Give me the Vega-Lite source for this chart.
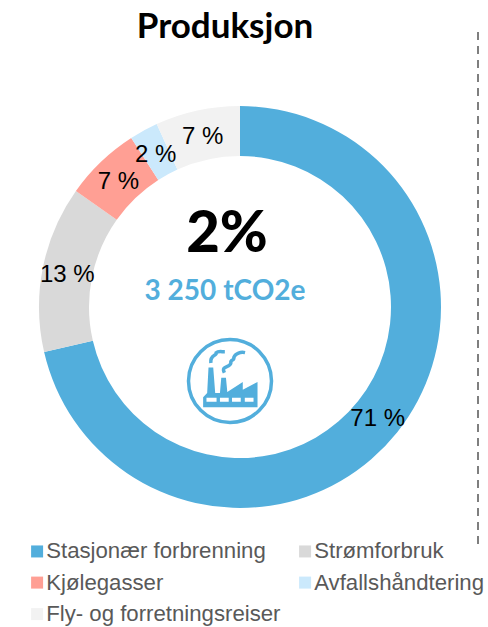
{"$schema":"https://vega.github.io/schema/vega-lite/v6.json","width":480,"height":614,"autosize":"none","padding":{"left":0,"top":0,"right":8,"bottom":13},"background":"white","view":{"stroke":null},
"title":{"text":"Produksjon","font":"Lato","fontWeight":"bold","fontSize":35,"color":"#000000","anchor":"middle","dx":-15,"dy":45,"offset":0},
"data":{"values":[
{"kategori":"Stasjonær forbrenning","andel":71.4,"etikett":"71 %","rekke":1},
{"kategori":"Strømforbruk","andel":13.4,"etikett":"13 %","rekke":2},
{"kategori":"Kjølegasser","andel":6.1,"etikett":"7 %","rekke":3},
{"kategori":"Avfallshåndtering","andel":2.3,"etikett":"2 %","rekke":4},
{"kategori":"Fly- og forretningsreiser","andel":6.8,"etikett":"7 %","rekke":5}]},
"layer":[
{"mark":{"type":"arc","outerRadius":201,"innerRadius":151},
"encoding":{"theta":{"field":"andel","type":"quantitative","stack":true},"order":{"field":"rekke","type":"ordinal"},
"color":{"field":"kategori","type":"nominal","scale":{"domain":["Stasjonær forbrenning","Kjølegasser","Fly- og forretningsreiser","Strømforbruk","Avfallshåndtering"],"range":["#52AEDC","#FF9F94","#F2F2F2","#D9D9D9","#CBE9FC"]},
"legend":{"orient":"none","legendX":26,"legendY":540,"padding":0,"title":null,"columns":2,"symbolType":"square","symbolSize":144,"symbolStrokeWidth":0,"labelFont":"Liberation Sans","labelFontSize":22.2,"labelColor":"#595959","labelOffset":-2,"rowPadding":8.5,"columnPadding":13,"labelLimit":300,"gridAlign":"each"}}}},
{"mark":{"type":"text","font":"Liberation Sans","fontSize":24,"color":"#000000","radius":176,"align":"center","baseline":"middle","dy":2},
"encoding":{"theta":{"field":"andel","type":"quantitative","stack":true},"order":{"field":"rekke","type":"ordinal"},"detail":{"field":"kategori","type":"nominal"},"text":{"field":"etikett","type":"nominal"}}},
{"data":{"values":[{"tekst":"2%"}]},"mark":{"type":"text","font":"Lato","fontWeight":900,"fontSize":58,"color":"#000000","align":"center","baseline":"alphabetic","dx":-13,"dy":-55},"encoding":{"text":{"field":"tekst","type":"nominal"}}},
{"data":{"values":[{"tekst":"3 250 tCO2e"}]},"mark":{"type":"text","font":"Lato","fontWeight":"bold","fontSize":28,"color":"#52AEDC","align":"center","baseline":"alphabetic","dx":-15,"dy":-7},"encoding":{"text":{"field":"tekst","type":"nominal"}}},
{"data":{"values":[{"ikon":"ring"}]},"mark":{"type":"point","shape":"circle","size":6889,"filled":false,"stroke":"#52AEDC","strokeWidth":3.5,"opacity":1},"encoding":{"x":{"datum":230,"type":"quantitative","scale":{"domain":[0,480],"nice":false,"zero":false},"axis":null},"y":{"datum":381,"type":"quantitative","scale":{"domain":[614,0],"nice":false,"zero":false},"axis":null}}},
{"data":{"values":[{"ikon":"fabrikk"}]},"mark":{"type":"point","shape":"M-.625.375L-.531.281-.5-.3125-.39-.3125-.344.281-.234.281-.203-.078-.094-.078-.0625.258.297.023.297.203.64.023.64.61-.625.61Z","size":7396,"filled":true,"fill":"#52AEDC","strokeWidth":0,"opacity":1},"encoding":{"x":{"datum":230,"type":"quantitative","scale":{"domain":[0,480],"nice":false,"zero":false},"axis":null},"y":{"datum":381,"type":"quantitative","scale":{"domain":[614,0],"nice":false,"zero":false},"axis":null}}},
{"data":{"values":[{"ikon":"vinduer"}]},"mark":{"type":"point","shape":"M-.547.39L-.3125.39-.3125.484-.547.484ZM-.234.39L-.03.39-.03.484-.234.484ZM.047.39L.25.39.25.484.047.484ZM.344.39L.547.39.547.484.344.484Z","size":7396,"filled":true,"fill":"#FFFFFF","strokeWidth":0,"opacity":1},"encoding":{"x":{"datum":230,"type":"quantitative","scale":{"domain":[0,480],"nice":false,"zero":false},"axis":null},"y":{"datum":381,"type":"quantitative","scale":{"domain":[614,0],"nice":false,"zero":false},"axis":null}}},
{"data":{"values":[{"ikon":"roeyk"}]},"mark":{"type":"point","shape":"M-.445-.42C-.47-.62-.3-.58-.32-.66C-.28-.7-.2-.68-.12-.68M-.13-.19C-.22-.37 0-.3.02-.42C0-.5.1-.46.09-.55C.13-.65.25-.68.35-.66","size":7396,"filled":false,"stroke":"#52AEDC","strokeWidth":3.5,"opacity":1},"encoding":{"x":{"datum":230,"type":"quantitative","scale":{"domain":[0,480],"nice":false,"zero":false},"axis":null},"y":{"datum":381,"type":"quantitative","scale":{"domain":[614,0],"nice":false,"zero":false},"axis":null}}},
{"data":{"values":[{"linje":"skille"}]},"mark":{"type":"rule","stroke":"#7F7F7F","strokeWidth":2,"strokeDash":[8,6]},"encoding":{"x":{"datum":478,"type":"quantitative","scale":{"domain":[0,480],"nice":false,"zero":false},"axis":null},"y":{"datum":32,"type":"quantitative","scale":{"domain":[614,0],"nice":false,"zero":false},"axis":null},"y2":{"datum":545}}}
]}
